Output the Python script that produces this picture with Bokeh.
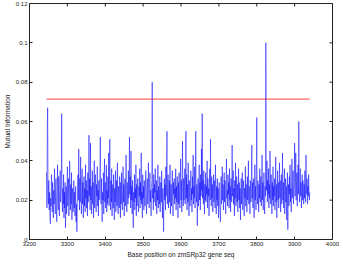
from bokeh.plotting import figure
from bokeh.models import FixedTicker, Range1d
from bokeh.embed import file_html
from bokeh.resources import INLINE

start_pos = 3245
mi_values = [
    0.034, 0.016, 0.057, 0.067, 0.022, 0.018, 0.030, 0.015, 0.024, 0.012, 0.008, 0.021, 0.017, 0.033, 0.026, 0.014, 0.029, 0.019, 0.011, 0.025,
    0.018, 0.036, 0.022, 0.013, 0.027, 0.031, 0.016, 0.009, 0.024, 0.038, 0.020, 0.015, 0.032, 0.017, 0.012, 0.028, 0.035, 0.019, 0.023, 0.030,
    0.064, 0.021, 0.014, 0.026, 0.018, 0.033, 0.011, 0.024, 0.016, 0.029, 0.006, 0.019, 0.027, 0.013, 0.022, 0.037, 0.017, 0.025, 0.031, 0.012,
    0.020, 0.040, 0.023, 0.015, 0.028, 0.018, 0.034, 0.010, 0.022, 0.026, 0.014, 0.019, 0.030, 0.016, 0.024, 0.012, 0.021, 0.027, 0.009, 0.018,
    0.004, 0.016, 0.025, 0.033, 0.020, 0.046, 0.024, 0.015, 0.031, 0.019, 0.042, 0.022, 0.013, 0.027, 0.036, 0.018, 0.029, 0.011, 0.023, 0.032,
    0.017, 0.026, 0.014, 0.038, 0.021, 0.030, 0.016, 0.025, 0.012, 0.034, 0.019, 0.028, 0.053, 0.022, 0.031, 0.015, 0.049, 0.020, 0.027, 0.013,
    0.024, 0.035, 0.018, 0.029, 0.011, 0.021, 0.040, 0.016, 0.026, 0.033, 0.019, 0.014, 0.028, 0.022, 0.037, 0.017, 0.025, 0.012, 0.030, 0.020,
    0.027, 0.036, 0.052, 0.023, 0.018, 0.031, 0.015, 0.009, 0.024, 0.020, 0.034, 0.013, 0.026, 0.041, 0.019, 0.029, 0.016, 0.022, 0.038, 0.014,
    0.025, 0.018, 0.032, 0.021, 0.044, 0.017, 0.027, 0.051, 0.023, 0.015, 0.030, 0.019, 0.036, 0.012, 0.024, 0.028, 0.016, 0.033, 0.021, 0.010,
    0.026, 0.019, 0.035, 0.014, 0.022, 0.030, 0.017, 0.039, 0.024, 0.013, 0.027, 0.020, 0.016, 0.032, 0.023, 0.011, 0.029, 0.018, 0.034, 0.021,
    0.015, 0.025, 0.037, 0.019, 0.028, 0.012, 0.022, 0.031, 0.017, 0.026, 0.043, 0.020, 0.014, 0.029, 0.024, 0.018, 0.035, 0.021, 0.027, 0.052,
    0.023, 0.032, 0.016, 0.045, 0.020, 0.027, 0.013, 0.030, 0.018, 0.006, 0.024, 0.019, 0.033, 0.015, 0.026, 0.021, 0.038, 0.012, 0.028, 0.017,
    0.025, 0.031, 0.019, 0.014, 0.027, 0.022, 0.036, 0.016, 0.029, 0.020, 0.044, 0.018, 0.024, 0.011, 0.033, 0.021, 0.027, 0.015, 0.030, 0.023,
    0.017, 0.028, 0.035, 0.020, 0.013, 0.026, 0.031, 0.018, 0.024, 0.039, 0.022, 0.016, 0.029, 0.034, 0.019, 0.025, 0.012, 0.027, 0.030, 0.080,
    0.021, 0.026, 0.015, 0.033, 0.019, 0.028, 0.024, 0.036, 0.017, 0.022, 0.030, 0.013, 0.025, 0.020, 0.038, 0.016, 0.027, 0.023, 0.018, 0.032,
    0.014, 0.024, 0.029, 0.019, 0.035, 0.021, 0.011, 0.026, 0.017, 0.004, 0.023, 0.031, 0.020, 0.028, 0.015, 0.037, 0.022, 0.040, 0.055, 0.018,
    0.027, 0.033, 0.016, 0.024, 0.030, 0.019, 0.038, 0.013, 0.022, 0.028, 0.017, 0.025, 0.035, 0.020, 0.012, 0.029, 0.023, 0.031, 0.018, 0.026,
    0.021, 0.036, 0.015, 0.027, 0.019, 0.032, 0.024, 0.011, 0.029, 0.018, 0.034, 0.022, 0.016, 0.026, 0.041, 0.020, 0.030, 0.014, 0.025, 0.050,
    0.023, 0.017, 0.031, 0.020, 0.027, 0.036, 0.018, 0.025, 0.055, 0.021, 0.033, 0.015, 0.028, 0.019, 0.039, 0.024, 0.012, 0.030, 0.022, 0.017,
    0.029, 0.035, 0.020, 0.026, 0.014, 0.032, 0.023, 0.043, 0.018, 0.027, 0.021, 0.037, 0.016, 0.030, 0.055, 0.024, 0.019, 0.028, 0.007, 0.022,
    0.031, 0.017, 0.026, 0.038, 0.020, 0.029, 0.015, 0.033, 0.022, 0.046, 0.025, 0.064, 0.021, 0.030, 0.018, 0.035, 0.024, 0.013, 0.028, 0.020,
    0.034, 0.019, 0.027, 0.023, 0.040, 0.016, 0.031, 0.022, 0.026, 0.012, 0.029, 0.036, 0.020, 0.051, 0.024, 0.017, 0.032, 0.021, 0.028, 0.014,
    0.025, 0.033, 0.019, 0.030, 0.022, 0.016, 0.038, 0.024, 0.013, 0.027, 0.020, 0.031, 0.017, 0.026, 0.011, 0.023, 0.029, 0.018, 0.015, 0.009,
    0.021, 0.032, 0.018, 0.026, 0.037, 0.020, 0.028, 0.015, 0.024, 0.034, 0.019, 0.030, 0.022, 0.013, 0.027, 0.041, 0.021, 0.025, 0.017, 0.033,
    0.023, 0.029, 0.016, 0.036, 0.020, 0.027, 0.014, 0.031, 0.024, 0.019, 0.048, 0.022, 0.028, 0.035, 0.018, 0.026, 0.012, 0.030, 0.021, 0.039,
    0.017, 0.025, 0.032, 0.019, 0.028, 0.014, 0.023, 0.036, 0.020, 0.029, 0.016, 0.026, 0.010, 0.022, 0.031, 0.018, 0.027, 0.034, 0.015, 0.024,
    0.030, 0.019, 0.012, 0.026, 0.021, 0.037, 0.017, 0.028, 0.023, 0.014, 0.032, 0.020, 0.025, 0.040, 0.018, 0.027, 0.022, 0.013, 0.030, 0.024,
    0.019, 0.035, 0.048, 0.021, 0.029, 0.016, 0.026, 0.031, 0.011, 0.023, 0.038, 0.020, 0.027, 0.015, 0.033, 0.062, 0.022, 0.018, 0.030, 0.025,
    0.014, 0.028, 0.021, 0.036, 0.019, 0.026, 0.032, 0.017, 0.024, 0.043, 0.020, 0.029, 0.015, 0.025, 0.034, 0.018, 0.013, 0.027, 0.022, 0.100,
    0.034, 0.025, 0.040, 0.019, 0.030, 0.023, 0.036, 0.016, 0.028, 0.021, 0.045, 0.026, 0.018, 0.033, 0.024, 0.013, 0.029, 0.020, 0.037, 0.017,
    0.027, 0.022, 0.031, 0.015, 0.025, 0.042, 0.019, 0.028, 0.011, 0.024, 0.035, 0.020, 0.029, 0.016, 0.026, 0.039, 0.021, 0.030, 0.014, 0.023,
    0.033, 0.018, 0.027, 0.044, 0.020, 0.029, 0.016, 0.025, 0.036, 0.013, 0.022, 0.031, 0.019, 0.027, 0.010, 0.024, 0.034, 0.005, 0.021, 0.028,
    0.017, 0.032, 0.023, 0.038, 0.019, 0.026, 0.014, 0.030, 0.041, 0.021, 0.027, 0.035, 0.018, 0.025, 0.031, 0.049, 0.022, 0.029, 0.044, 0.020,
    0.026, 0.034, 0.017, 0.028, 0.038, 0.023, 0.060, 0.031, 0.019, 0.027, 0.036, 0.022, 0.029, 0.016, 0.025, 0.033, 0.020, 0.030, 0.024, 0.018,
    0.028, 0.021, 0.035, 0.026, 0.019, 0.043, 0.029, 0.023, 0.031, 0.018, 0.027, 0.022, 0.033, 0.025, 0.020, 0.024,
]
positions = list(range(start_pos, start_pos + len(mi_values)))

threshold_x = [3245, 3940]
threshold_y = [0.0714, 0.0714]

x_ticks = [3200, 3300, 3400, 3500, 3600, 3700, 3800, 3900, 4000]
y_ticks = [0, 0.02, 0.04, 0.06, 0.08, 0.1, 0.12]
y_tick_labels = ["0", "0.02", "0.04", "0.06", "0.08", "0.1", "0.12"]

FONT = "Liberation Sans"
X0, X1, Y0, Y1 = 3200, 4000, 0, 0.12

p = figure(frame_width=303, frame_height=236, output_backend="svg", toolbar_location=None,
           x_range=Range1d(X0, X1), y_range=Range1d(Y0, Y1),
           min_border_left=18, min_border_right=7, min_border_top=3, min_border_bottom=0)
p.background_fill_color = "white"
p.border_fill_color = "white"
p.outline_line_color = "#222222"
p.outline_line_width = 1
p.xgrid.visible = False
p.ygrid.visible = False

p.line(positions, mi_values, line_color="#0000ff", line_width=0.5)
p.line(threshold_x, threshold_y, line_color="#ff0000", line_width=1.2, line_alpha=0.6)

# inward ticks on the top and right edges (MATLAB box style)
tick_len_y = (Y1 - Y0) * 3 / 236
tick_len_x = (X1 - X0) * 3 / 303
p.segment(x0=x_ticks, x1=x_ticks, y0=[Y1] * len(x_ticks), y1=[Y1 - tick_len_y] * len(x_ticks),
          line_color="#222222", line_width=1)
p.segment(x0=[X1] * len(y_ticks), x1=[X1 - tick_len_x] * len(y_ticks), y0=y_ticks, y1=y_ticks,
          line_color="#222222", line_width=1)

for ax in (p.xaxis[0], p.yaxis[0]):
    ax.axis_line_color = "#222222"
    ax.major_tick_line_color = "#222222"
    ax.major_tick_in = 3
    ax.major_tick_out = 0
    ax.minor_tick_in = 0
    ax.minor_tick_out = 0
    ax.major_label_text_font = FONT
    ax.major_label_text_font_size = "6px"
    ax.major_label_text_color = "#222222"
    ax.major_label_standoff = 2
    ax.axis_label_text_font = FONT
    ax.axis_label_text_font_size = "6.5px"
    ax.axis_label_text_font_style = "normal"
    ax.axis_label_text_color = "#222222"
    ax.axis_label_standoff = 2

p.xaxis.ticker = FixedTicker(ticks=x_ticks)
p.yaxis.ticker = FixedTicker(ticks=y_ticks)
p.yaxis.major_label_overrides = {t: l for t, l in zip(y_ticks, y_tick_labels)}
p.xaxis.axis_label = "Base position on zmSRp32 gene seq"
p.yaxis.axis_label = "Mutual Information"

open("out.html", "w").write(file_html(p, INLINE))
